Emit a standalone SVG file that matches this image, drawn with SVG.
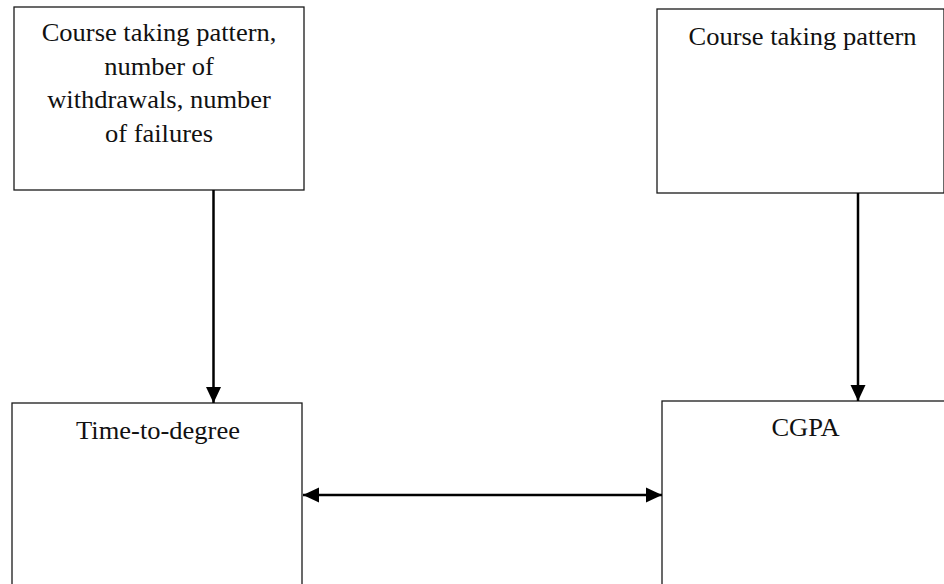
<svg xmlns="http://www.w3.org/2000/svg" width="944" height="584" viewBox="0 0 944 584">
  <style>
    .box { fill: #ffffff; stroke: #1a1a1a; stroke-width: 1.3; }
    .lbl { font-family: "Liberation Serif", "Times New Roman", serif; font-size: 25px; fill: #111111; text-anchor: middle; }
    .wire { stroke: #000000; stroke-width: 2.5; fill: none; }
  </style>
  <defs>
    <marker id="head" viewBox="0 0 16 16" refX="16" refY="8" markerWidth="16" markerHeight="16" markerUnits="userSpaceOnUse" orient="auto-start-reverse">
      <path d="M0,0.5 L16,8 L0,15.5 Z" fill="#000000"/>
    </marker>
  </defs>
  <rect width="944" height="584" fill="#ffffff"/>

  <g id="node-course-left">
    <rect class="box" x="14" y="7" width="290" height="183"/>
    <text class="lbl" transform="matrix(1.06 0 0 1 159 41)">Course taking pattern,</text>
    <text class="lbl" transform="matrix(1.06 0 0 1 159 74.5)">number of</text>
    <text class="lbl" transform="matrix(1.06 0 0 1 159 108)">withdrawals, number</text>
    <text class="lbl" transform="matrix(1.06 0 0 1 159 141.5)">of failures</text>
  </g>

  <g id="node-course-right">
    <rect class="box" x="657" y="9" width="287" height="184"/>
    <text class="lbl" transform="matrix(1.06 0 0 1 802.5 45)">Course taking pattern</text>
  </g>

  <g id="node-time-to-degree">
    <rect class="box" x="12" y="403" width="290" height="200"/>
    <text class="lbl" transform="matrix(1.06 0 0 1 158 439)">Time-to-degree</text>
  </g>

  <g id="node-cgpa">
    <rect class="box" x="662" y="401" width="290" height="200"/>
    <text class="lbl" transform="matrix(1.06 0 0 1 805.5 436)">CGPA</text>
  </g>

  <g id="connectors">
    <line class="wire" x1="213.5" y1="190" x2="213.5" y2="403" marker-end="url(#head)"/>
    <line class="wire" x1="858" y1="193" x2="858" y2="401" marker-end="url(#head)"/>
    <line class="wire" x1="303" y1="495" x2="662" y2="495" marker-start="url(#head)" marker-end="url(#head)"/>
  </g>
</svg>
